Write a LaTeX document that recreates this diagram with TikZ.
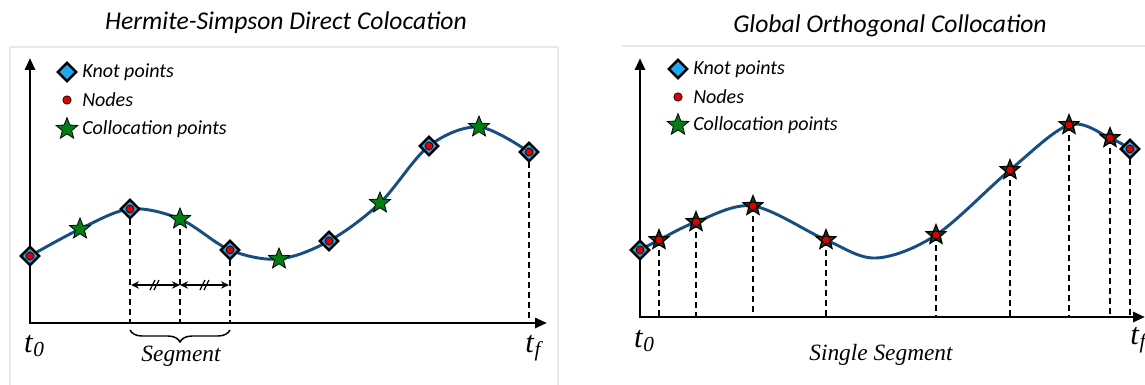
\documentclass[tikz,border=0pt]{standalone}
\usepackage{fontspec}
\newfontfamily\calib{Carlito}
\newfontfamily\serifit{Liberation Serif}
\usetikzlibrary{shapes.geometric,arrows.meta,decorations.pathreplacing}
\definecolor{curveblue}{RGB}{22,78,130}
\definecolor{knotblue}{RGB}{30,170,240}
\definecolor{nodered}{RGB}{220,0,0}
\definecolor{stargreen}{RGB}{0,125,20}
\definecolor{stardark}{RGB}{25,60,25}
\definecolor{framegray}{RGB}{232,232,232}
\newcommand{\tsub}[1]{{\serifit\itshape t\kern0.5pt\raisebox{-3.5pt}{\fontsize{16}{16}\selectfont #1}}}
\begin{document}
\begin{tikzpicture}[x=0.75pt,y=-0.75pt,
  knot/.style={diamond, draw=black, line width=1.9pt, fill=knotblue, inner sep=0pt, minimum size=14.5pt},
  ndot/.style={circle, draw=black, line width=0.5pt, fill=nodered, inner sep=0pt, minimum size=6pt},
  cstar/.style={star, star points=5, star point ratio=2.3, draw=black, line width=0.6pt, fill=stargreen, inner sep=0pt, minimum size=16.5pt},
  dstar/.style={cstar, fill=stardark, line width=0.9pt, minimum size=15.5pt},
  axisline/.style={line width=2.2pt, line join=miter, {Triangle[length=9pt,width=7.5pt]}-{Triangle[length=9pt,width=7.5pt]}},
  curveline/.style={draw=curveblue, line width=2.2pt},
  drop/.style={line width=1pt, dash pattern=on 4.5pt off 3pt},
  dimarrow/.style={line width=1.3pt, {Stealth[length=6pt,width=5.5pt]}-{Stealth[length=6pt,width=5.5pt]}},
  ttl/.style={font=\calib\itshape\fontsize{19.2}{22}\selectfont, inner sep=0pt},
  leg/.style={font=\calib\itshape\fontsize{15}{18}\selectfont, anchor=west, inner sep=0pt},
  tlab/.style={font=\fontsize{23}{26}\selectfont, inner sep=0pt},
  seglab/.style={font=\serifit\itshape\fontsize{17.5}{20}\selectfont, inner sep=0pt},
  frame/.style={draw=framegray, line width=0.8pt}]
\useasboundingbox (0,0) rectangle (1145,385);

% ---------------- LEFT PANEL ----------------
\draw[frame] (10,390) -- (10,47) -- (558,47) -- (558,390);
\node[ttl] (titleA) at (286,23) {Hermite-Simpson Direct Colocation};

\coordinate (OA) at (30,323);
\coordinate (YA) at (30,58);
\coordinate (XA) at (547,323);

\coordinate (K0) at (30,256);
\coordinate (S1) at (80,229);
\coordinate (K1) at (130,209);
\coordinate (S2) at (180,219);
\coordinate (K2) at (230,250);
\coordinate (S3) at (279,259);
\coordinate (K3) at (329,241);
\coordinate (S4) at (380,203);
\coordinate (K4) at (429,146);
\coordinate (S5) at (479,127);
\coordinate (K5) at (529,152);

\draw[drop] (K1) -- (K1 |- OA);
\draw[drop] (S2) -- (S2 |- OA);
\draw[drop] (K2) -- (K2 |- OA);
\draw[drop] (K5) -- (K5 |- OA);

\draw[axisline] (YA) -- (OA) -- (XA);

\draw[curveline] plot[smooth, tension=0.55] coordinates {(K0) (S1) (K1) (S2) (K2) (S3) (K3) (S4) (K4) (S5) (K5)};

% spacing arrows
\coordinate (DA1) at (131,285);
\coordinate (DA2) at (180,285);
\coordinate (DA3) at (229,285);
\draw[dimarrow] (DA1) -- (DA2);
\draw[dimarrow] (DA2) -- (DA3);
\draw[line width=1pt] (150,290) -- (155,280) (154,290) -- (159,280);
\draw[line width=1pt] (200,290) -- (205,280) (204,290) -- (209,280);

% brace
\coordinate (BA1) at (130,330);
\coordinate (BA2) at (230,330);
\draw[decorate, decoration={brace, mirror, amplitude=9pt}, line width=1.1pt] (BA1) -- (BA2);
\node[seglab] (segA) at (181,356) {Segment};

\node[tlab] (t0A) at (34,346) {\tsub{0}};
\node[tlab] (tfA) at (533,348) {\tsub{f}};

% markers
\foreach \k in {K0,K1,K2,K3,K4,K5}{
  \node[knot] (\k m) at (\k) {};
  \node[ndot] (\k d) at (\k) {};
}
\foreach \s in {S1,S2,S3,S4,S5}{
  \node[cstar] (\s m) at (\s) {};
}

% legend
\node[knot] (LAk) at (67,72) {};
\node[leg] (LAkt) at (82,72) {Knot points};
\node[ndot, minimum size=6.3pt] (LAn) at (67,100) {};
\node[leg] (LAnt) at (82,100) {Nodes};
\node[cstar, minimum size=17pt] (LAs) at (67,129) {};
\node[leg] (LAst) at (82,129) {Collocation points};

% ---------------- RIGHT PANEL ----------------
\draw[frame] (622,46) -- (1150,46);
\node[ttl] (titleB) at (890,26) {Global Orthogonal Collocation};

\coordinate (OB) at (640,317);
\coordinate (YB) at (640,58);
\coordinate (XB) at (1145,317);

\coordinate (Q0) at (640,250);
\coordinate (P1) at (659,240);
\coordinate (P2) at (696,222);
\coordinate (P3) at (753,206);
\coordinate (P4) at (826,240);
\coordinate (M1) at (876,258);
\coordinate (P5) at (936,235);
\coordinate (P6) at (1010,170);
\coordinate (P7) at (1069,125);
\coordinate (P8) at (1110,138);
\coordinate (Q1) at (1130,149);

\foreach \p in {P1,P2,P3,P4,P5,P6,P7,P8,Q1}{
  \draw[drop] (\p) -- (\p |- OB);
}

\draw[axisline] (YB) -- (OB) -- (XB);

\draw[curveline] plot[smooth, tension=0.55] coordinates {(Q0) (P1) (P2) (P3) (P4) (M1) (P5) (P6) (P7) (P8) (Q1)};

\node[tlab] (t0B) at (644,341) {\tsub{0}};
\node[tlab] (tfB) at (1138,340) {\tsub{f}};
\node[seglab] (segB) at (881,355) {Single Segment};

\foreach \q in {Q0,Q1}{
  \node[knot] (\q m) at (\q) {};
  \node[ndot] (\q d) at (\q) {};
}
\foreach \p in {P1,P2,P3,P4,P5,P6,P7,P8}{
  \node[dstar] (\p m) at (\p) {};
  \node[ndot] (\p d) at (\p) {};
}

% legend
\node[knot] (LBk) at (678,69) {};
\node[leg] (LBkt) at (693,69) {Knot points};
\node[ndot, minimum size=6.3pt] (LBn) at (678,97) {};
\node[leg] (LBnt) at (693,97) {Nodes};
\node[cstar, minimum size=17pt] (LBs) at (678,125) {};
\node[leg] (LBst) at (693,125) {Collocation points};
\end{tikzpicture}
\end{document}
